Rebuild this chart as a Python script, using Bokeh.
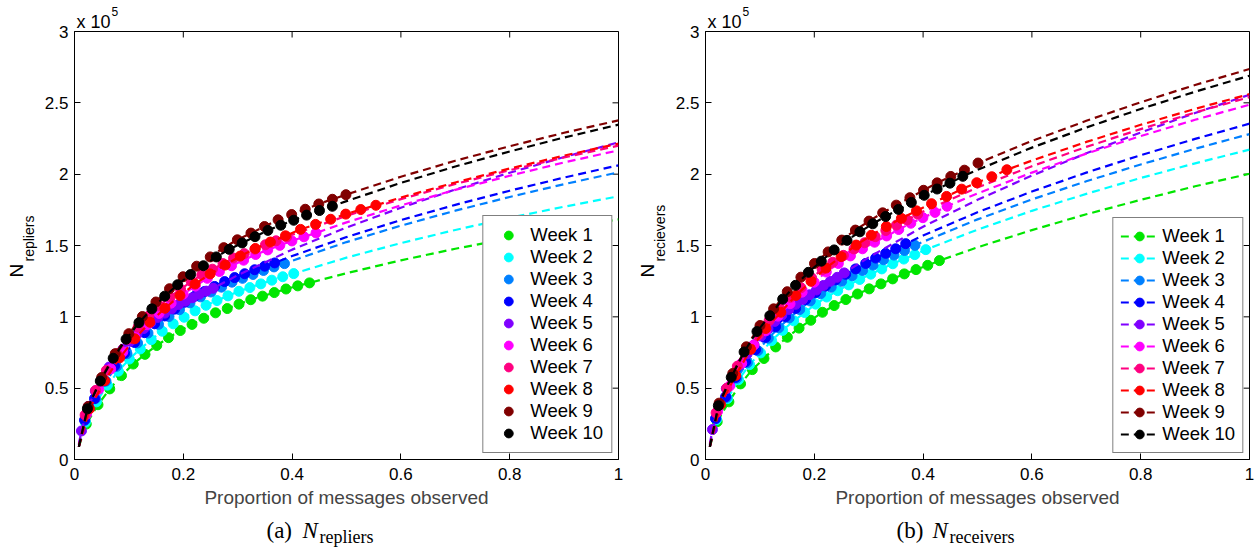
import numpy as np
from bokeh.plotting import figure
from bokeh.models import (Range1d, FixedTicker, NumeralTickFormatter,
                          Title, Legend, LegendItem, Label)
from bokeh.layouts import row, column
from bokeh.embed import file_html
from bokeh.resources import INLINE

# ---------------- data (values in units of 10^5) ----------------
weeks = ["Week 1", "Week 2", "Week 3", "Week 4", "Week 5",
         "Week 6", "Week 7", "Week 8", "Week 9", "Week 10"]
colors = ["#00e600", "#00ffff", "#0080ff", "#0000ff", "#8000ff",
          "#ff00ff", "#ff0080", "#ff0000", "#800000", "#000000"]
n_samples = 20
x_ticks = [0, 0.2, 0.4, 0.6, 0.8, 1.0]
y_ticks = [0, 0.5, 1, 1.5, 2, 2.5, 3]
fit_start_x = 0.008

# (a) N_repliers: largest proportion observed per week, observed values, fitted extension
rep_xmax = [0.432, 0.403, 0.386, 0.368, 0.255, 0.444, 0.390, 0.554, 0.499, 0.474]
rep_obs = [
    [0.248, 0.384, 0.495, 0.588, 0.669, 0.737, 0.799, 0.854, 0.904, 0.947, 0.990, 1.028, 1.058, 1.089, 1.120, 1.145, 1.170, 1.195, 1.217, 1.238],
    [0.261, 0.404, 0.521, 0.619, 0.704, 0.775, 0.840, 0.899, 0.951, 0.997, 1.042, 1.081, 1.114, 1.147, 1.179, 1.205, 1.231, 1.257, 1.281, 1.303],
    [0.275, 0.426, 0.549, 0.652, 0.741, 0.817, 0.886, 0.947, 1.002, 1.050, 1.098, 1.140, 1.174, 1.208, 1.243, 1.270, 1.297, 1.325, 1.350, 1.373],
    [0.276, 0.427, 0.551, 0.655, 0.744, 0.820, 0.889, 0.951, 1.006, 1.054, 1.102, 1.144, 1.178, 1.213, 1.247, 1.275, 1.302, 1.330, 1.355, 1.378],
    [0.200, 0.372, 0.480, 0.570, 0.648, 0.714, 0.774, 0.828, 0.876, 0.918, 0.960, 0.996, 1.026, 1.056, 1.086, 1.110, 1.134, 1.158, 1.180, 1.200],
    [0.318, 0.492, 0.635, 0.754, 0.858, 0.945, 1.024, 1.096, 1.159, 1.215, 1.270, 1.318, 1.358, 1.397, 1.437, 1.469, 1.501, 1.532, 1.561, 1.588],
    [0.312, 0.484, 0.624, 0.741, 0.842, 0.928, 1.006, 1.076, 1.139, 1.193, 1.248, 1.295, 1.334, 1.373, 1.412, 1.443, 1.474, 1.505, 1.533, 1.560],
    [0.356, 0.552, 0.713, 0.846, 0.962, 1.060, 1.149, 1.230, 1.301, 1.363, 1.426, 1.479, 1.524, 1.568, 1.613, 1.648, 1.684, 1.720, 1.752, 1.782],
    [0.371, 0.575, 0.742, 0.882, 1.002, 1.104, 1.197, 1.281, 1.355, 1.420, 1.485, 1.540, 1.587, 1.633, 1.680, 1.717, 1.754, 1.791, 1.824, 1.856],
    [0.355, 0.550, 0.710, 0.843, 0.959, 1.056, 1.145, 1.225, 1.296, 1.358, 1.420, 1.473, 1.518, 1.562, 1.606, 1.642, 1.677, 1.713, 1.745, 1.775],
]
rep_fit_start = [0.09, 0.09, 0.09, 0.10, 0.11, 0.09, 0.09, 0.09, 0.09, 0.09]
rep_fit_x = [
    [0.5, 0.6, 0.7, 0.8, 0.9, 1.0],
    [0.5, 0.6, 0.7, 0.8, 0.9, 1.0],
    [0.4, 0.5, 0.6, 0.7, 0.8, 0.9, 1.0],
    [0.4, 0.5, 0.6, 0.7, 0.8, 0.9, 1.0],
    [0.3, 0.4, 0.5, 0.6, 0.7, 0.8, 0.9, 1.0],
    [0.5, 0.6, 0.7, 0.8, 0.9, 1.0],
    [0.4, 0.5, 0.6, 0.7, 0.8, 0.9, 1.0],
    [0.6, 0.7, 0.8, 0.9, 1.0],
    [0.6, 0.7, 0.8, 0.9, 1.0],
    [0.5, 0.6, 0.7, 0.8, 0.9, 1.0],
]
rep_fit_y = [
    [1.306, 1.396, 1.477, 1.551, 1.620, 1.683],
    [1.415, 1.517, 1.609, 1.694, 1.772, 1.845],
    [1.393, 1.524, 1.639, 1.744, 1.840, 1.930, 2.013],
    [1.426, 1.559, 1.678, 1.785, 1.884, 1.976, 2.062],
    [1.292, 1.471, 1.626, 1.765, 1.892, 2.010, 2.120, 2.223],
    [1.662, 1.781, 1.890, 1.989, 2.082, 2.167],
    [1.575, 1.708, 1.825, 1.931, 2.028, 2.117, 2.200],
    [1.836, 1.942, 2.040, 2.130, 2.214],
    [1.982, 2.094, 2.196, 2.290, 2.377],
    [1.811, 1.939, 2.054, 2.159, 2.257, 2.347],
]

# (b) N_receivers
rec_xmax = [0.430, 0.405, 0.385, 0.368, 0.255, 0.444, 0.390, 0.554, 0.501, 0.473]
rec_obs = [
    [0.265, 0.404, 0.530, 0.630, 0.708, 0.789, 0.857, 0.921, 0.976, 1.032, 1.079, 1.121, 1.160, 1.196, 1.231, 1.266, 1.301, 1.331, 1.361, 1.394],
    [0.279, 0.427, 0.559, 0.665, 0.747, 0.833, 0.905, 0.972, 1.030, 1.089, 1.139, 1.183, 1.224, 1.262, 1.299, 1.336, 1.372, 1.405, 1.436, 1.471],
    [0.285, 0.435, 0.570, 0.678, 0.763, 0.850, 0.923, 0.992, 1.051, 1.111, 1.162, 1.207, 1.249, 1.288, 1.325, 1.363, 1.400, 1.433, 1.465, 1.501],
    [0.287, 0.439, 0.575, 0.684, 0.769, 0.856, 0.930, 1.000, 1.059, 1.120, 1.171, 1.216, 1.259, 1.298, 1.336, 1.374, 1.412, 1.445, 1.477, 1.513],
    [0.210, 0.379, 0.497, 0.591, 0.664, 0.740, 0.804, 0.865, 0.916, 0.968, 1.012, 1.052, 1.088, 1.122, 1.155, 1.188, 1.220, 1.249, 1.277, 1.308],
    [0.337, 0.515, 0.675, 0.802, 0.902, 1.005, 1.092, 1.173, 1.243, 1.314, 1.374, 1.427, 1.477, 1.523, 1.567, 1.612, 1.656, 1.695, 1.732, 1.775],
    [0.327, 0.499, 0.654, 0.777, 0.874, 0.974, 1.058, 1.137, 1.204, 1.273, 1.331, 1.383, 1.431, 1.476, 1.519, 1.562, 1.605, 1.643, 1.679, 1.720],
    [0.386, 0.589, 0.772, 0.918, 1.032, 1.150, 1.249, 1.342, 1.422, 1.503, 1.572, 1.633, 1.690, 1.743, 1.793, 1.844, 1.895, 1.940, 1.982, 2.031],
    [0.395, 0.603, 0.790, 0.939, 1.056, 1.176, 1.278, 1.374, 1.455, 1.538, 1.608, 1.671, 1.729, 1.783, 1.835, 1.887, 1.939, 1.984, 2.028, 2.078],
    [0.377, 0.576, 0.754, 0.897, 1.008, 1.124, 1.221, 1.312, 1.390, 1.469, 1.536, 1.596, 1.652, 1.703, 1.753, 1.802, 1.852, 1.896, 1.937, 1.985],
]
rec_fit_start = [0.09, 0.09, 0.09, 0.10, 0.11, 0.09, 0.09, 0.09, 0.09, 0.09]
rec_fit_x = [
    [0.5, 0.6, 0.7, 0.8, 0.9, 1.0],
    [0.5, 0.6, 0.7, 0.8, 0.9, 1.0],
    [0.4, 0.5, 0.6, 0.7, 0.8, 0.9, 1.0],
    [0.4, 0.5, 0.6, 0.7, 0.8, 0.9, 1.0],
    [0.3, 0.4, 0.5, 0.6, 0.7, 0.8, 0.9, 1.0],
    [0.5, 0.6, 0.7, 0.8, 0.9, 1.0],
    [0.4, 0.5, 0.6, 0.7, 0.8, 0.9, 1.0],
    [0.6, 0.7, 0.8, 0.9, 1.0],
    [0.6, 0.7, 0.8, 0.9, 1.0],
    [0.5, 0.6, 0.7, 0.8, 0.9, 1.0],
]
rec_fit_y = [
    [1.487, 1.608, 1.719, 1.820, 1.915, 2.003],
    [1.611, 1.743, 1.862, 1.973, 2.076, 2.172],
    [1.526, 1.683, 1.823, 1.950, 2.068, 2.178, 2.281],
    [1.570, 1.733, 1.878, 2.011, 2.133, 2.247, 2.354],
    [1.417, 1.632, 1.820, 1.990, 2.146, 2.292, 2.429, 2.557],
    [1.865, 2.011, 2.144, 2.267, 2.381, 2.487],
    [1.738, 1.907, 2.056, 2.191, 2.316, 2.432, 2.540],
    [2.095, 2.226, 2.346, 2.458, 2.561],
    [2.233, 2.374, 2.504, 2.625, 2.737],
    [2.030, 2.186, 2.327, 2.457, 2.578, 2.690],
]

SANS = "Liberation Sans"
SERIF = "Liberation Serif"
FRAME_W, FRAME_H = 544, 428
TICK_LEN = 6
PANEL_H = 514
CAPTION_H = 40


def style_axis(ax, ticks):
    ax.ticker = FixedTicker(ticks=ticks)
    ax.formatter = NumeralTickFormatter(format="0.[0]")
    ax.axis_line_color = "black"
    ax.axis_line_width = 1
    ax.major_tick_line_color = "black"
    ax.major_tick_in = TICK_LEN
    ax.major_tick_out = 0
    ax.minor_tick_line_color = None
    ax.major_label_text_font = SANS
    ax.major_label_text_color = "black"
    ax.major_label_text_font_size = "17px"


def ttl(text, size, font, standoff, offset, style="normal"):
    return Title(text=text, text_font=font, text_font_size=size, text_font_style=style,
                 text_color="black", align="left", vertical_align="middle",
                 offset=offset, standoff=standoff)


def make_panel(xmax_list, obs, fit_start, fit_x, fit_y, ysub, legend_lines,
               border_left, border_right):
    p = figure(width=629, height=PANEL_H, x_range=Range1d(0, 1), y_range=Range1d(0, 3),
               output_backend="svg", toolbar_location=None,
               min_border_left=border_left, min_border_right=border_right,
               min_border_top=31, min_border_bottom=PANEL_H - 31 - FRAME_H)
    p.title.visible = False
    p.background_fill_color = "white"
    p.border_fill_color = "white"
    p.outline_line_color = "black"
    p.outline_line_width = 1
    p.outline_line_alpha = 1
    p.xgrid.visible = False
    p.ygrid.visible = False

    style_axis(p.xaxis[0], x_ticks)
    style_axis(p.yaxis[0], y_ticks)
    p.xaxis[0].major_label_standoff = 8
    p.yaxis[0].major_label_standoff = 6
    p.xaxis[0].axis_label = "Proportion of messages observed"
    p.xaxis[0].axis_label_text_font = SANS
    p.xaxis[0].axis_label_text_font_style = "normal"
    p.xaxis[0].axis_label_text_font_size = "19px"
    p.xaxis[0].axis_label_standoff = 4

    # inward ticks on the top and right sides of the box
    dy = TICK_LEN / FRAME_H * 3
    dx = TICK_LEN / FRAME_W
    p.segment(x0=x_ticks, y0=[3] * len(x_ticks), x1=x_ticks,
              y1=[3 - dy] * len(x_ticks), line_color="black", line_width=1)
    p.segment(x0=[1] * len(y_ticks), y0=y_ticks, x1=[1 - dx] * len(y_ticks),
              y1=y_ticks, line_color="black", line_width=1)

    items = []
    for i in range(len(weeks)):
        xs = (np.arange(1, n_samples + 1) / n_samples * xmax_list[i]).tolist()
        ys = obs[i]
        lx = [fit_start_x] + xs + fit_x[i]
        ly = [fit_start[i]] + ys + fit_y[i]
        lr = p.line(lx, ly, line_color=colors[i], line_width=2.2, line_dash="8 5")
        sr = p.scatter(xs, ys, marker="circle", size=10, fill_color=colors[i],
                       line_color=colors[i], line_width=1)
        items.append(LegendItem(label=weeks[i], renderers=[lr, sr] if legend_lines else [sr]))

    legend = Legend(items=items, location="bottom_right", margin=6,
                    border_line_color="black", border_line_width=1,
                    background_fill_color="white", background_fill_alpha=1,
                    label_text_font=SANS, label_text_font_size="18.5px",
                    label_text_color="black",
                    glyph_width=38 if legend_lines else 34, glyph_height=22,
                    label_height=22, spacing=0,
                    padding=7 if legend_lines else 8,
                    label_standoff=4 if legend_lines else 5)
    p.add_layout(legend)

    # exponent label above the box
    p.add_layout(ttl("x 10", "18px", SANS, -2, 2), "above")
    p.add_layout(ttl("5", "12px", SANS, -15, 37), "above")

    # y-axis label N_sub (rotated, left side)
    p.add_layout(ttl(ysub, "14px", SANS, 7, 198), "left")
    p.add_layout(ttl("N", "19px", SANS, -22, 182), "left")
    return p


p1 = make_panel(rep_xmax, rep_obs, rep_fit_start, rep_fit_x, rep_fit_y, "repliers",
                False, 74, 11)
p2 = make_panel(rec_xmax, rec_obs, rec_fit_start, rec_fit_x, rec_fit_y, "recievers",
                True, 76, 9)

# sub-figure captions in a strip below both panels
cap = figure(width=1258, height=CAPTION_H, x_range=Range1d(0, 1258), y_range=Range1d(0, CAPTION_H),
             output_backend="svg", toolbar_location=None, x_axis_type=None, y_axis_type=None,
             min_border=0, min_border_left=0, min_border_right=0,
             min_border_top=0, min_border_bottom=0)
cap.title.visible = False
cap.outline_line_color = None
cap.background_fill_color = "white"
cap.border_fill_color = "white"

captions = [("(a)", "repliers", 266), ("(b)", "receivers", 896)]
for letter, sub, x0 in captions:
    cap.add_layout(Label(x=x0, y=24, x_units="screen", y_units="screen", text=letter,
                         text_font=SERIF, text_font_size="23px", text_color="black",
                         text_align="left", text_baseline="middle"))
    cap.add_layout(Label(x=x0 + 36, y=24, x_units="screen", y_units="screen", text="N",
                         text_font=SERIF, text_font_size="23px", text_font_style="italic",
                         text_color="black", text_align="left", text_baseline="middle"))
    cap.add_layout(Label(x=x0 + 53, y=18, x_units="screen", y_units="screen", text=sub,
                         text_font=SERIF, text_font_size="18px", text_color="black",
                         text_align="left", text_baseline="middle"))

layout = column(row(p1, p2), cap)
open("out.html", "w").write(file_html(layout, INLINE))
